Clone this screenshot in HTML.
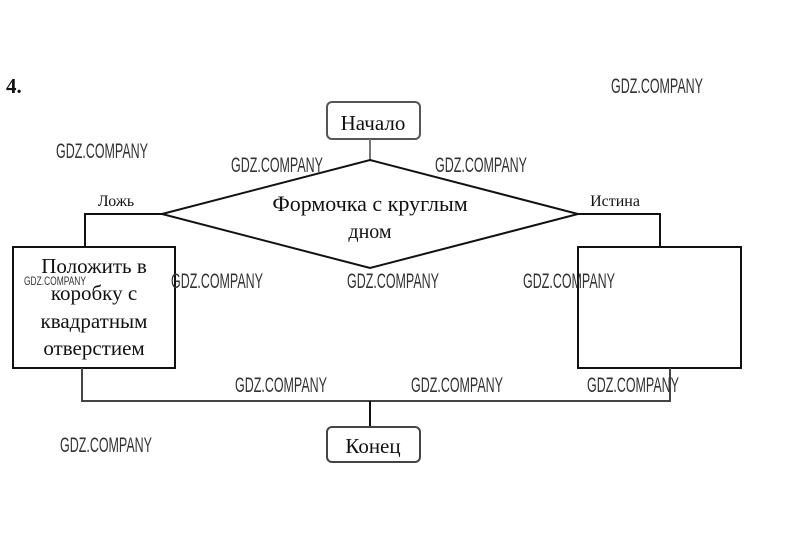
<!DOCTYPE html>
<html><head><meta charset="utf-8"><style>
html,body{margin:0;padding:0;background:#fff;width:800px;height:559px;overflow:hidden}
</style></head><body>
<svg width="800" height="559" xmlns="http://www.w3.org/2000/svg">
<rect width="800" height="559" fill="#fff"/>
<g fill="none" stroke="#111" stroke-width="2">
<rect x="327" y="102" width="93" height="37" rx="5" stroke="#555"/>
<line x1="370" y1="139" x2="370" y2="160" stroke="#777"/>
<polygon points="370,160 578,214 370,268 162,214"/>
<polyline points="162,214 85,214 85,247"/>
<rect x="13" y="247" width="162" height="121"/>
<polyline points="578,214 660,214 660,247"/>
<rect x="578" y="247" width="163" height="121"/>
<polyline points="82,368 82,401 670,401 670,368" stroke="#444"/>
<line x1="370" y1="401" x2="370" y2="427"/>
<rect x="327" y="427" width="93" height="35" rx="5" stroke="#444"/>
</g>
<g font-family="Liberation Serif, serif" fill="#111" text-anchor="middle">
<text x="373" y="130" font-size="21">Начало</text>
<text x="370" y="211" font-size="22">Формочка с круглым</text>
<text x="370" y="238" font-size="20">дном</text>
<text x="94" y="273" font-size="21">Положить в</text>
<text x="94" y="300" font-size="21">коробку с</text>
<text x="94" y="328" font-size="21">квадратным</text>
<text x="94" y="355" font-size="21">отверстием</text>
<text x="373" y="453" font-size="21">Конец</text>
<text x="116" y="206" font-size="16">Ложь</text>
<text x="615" y="206" font-size="16">Истина</text>
</g>
<text x="6" y="93" font-family="Liberation Serif, serif" font-size="21" font-weight="bold" fill="#111">4.</text>
<g font-family="Liberation Sans, sans-serif" font-size="21" fill="#333">
<text x="611" y="93" textLength="92" lengthAdjust="spacingAndGlyphs">GDZ.COMPANY</text>
<text x="56" y="158" textLength="92" lengthAdjust="spacingAndGlyphs">GDZ.COMPANY</text>
<text x="231" y="172" textLength="92" lengthAdjust="spacingAndGlyphs">GDZ.COMPANY</text>
<text x="435" y="172" textLength="92" lengthAdjust="spacingAndGlyphs">GDZ.COMPANY</text>
<text x="171" y="288" textLength="92" lengthAdjust="spacingAndGlyphs">GDZ.COMPANY</text>
<text x="347" y="288" textLength="92" lengthAdjust="spacingAndGlyphs">GDZ.COMPANY</text>
<text x="523" y="288" textLength="92" lengthAdjust="spacingAndGlyphs">GDZ.COMPANY</text>
<text x="235" y="392" textLength="92" lengthAdjust="spacingAndGlyphs">GDZ.COMPANY</text>
<text x="411" y="392" textLength="92" lengthAdjust="spacingAndGlyphs">GDZ.COMPANY</text>
<text x="587" y="392" textLength="92" lengthAdjust="spacingAndGlyphs">GDZ.COMPANY</text>
<text x="60" y="452" textLength="92" lengthAdjust="spacingAndGlyphs">GDZ.COMPANY</text>
<text x="24" y="285" font-size="12" textLength="62" lengthAdjust="spacingAndGlyphs">GDZ.COMPANY</text>
</g>
</svg>
</body></html>
